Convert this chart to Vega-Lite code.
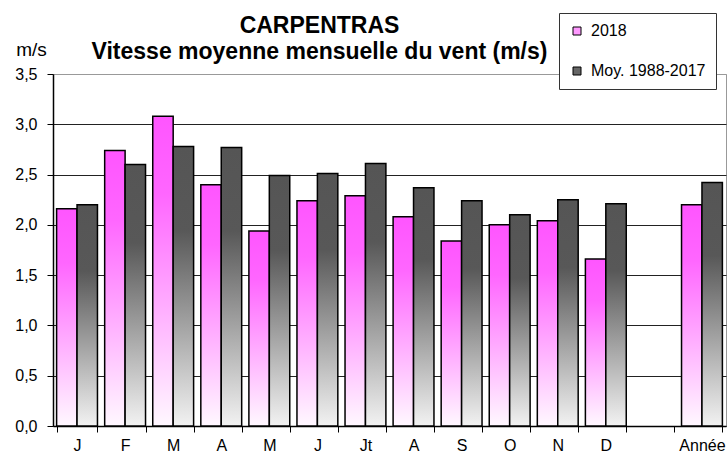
{
  "$schema": "https://vega.github.io/schema/vega-lite/v6.json",
  "autosize": "none",
  "width": 673,
  "height": 352,
  "padding": {"left": 53, "top": 74, "right": 1, "bottom": 28},
  "background": "white",
  "config": {
    "view": {"stroke": "#999999", "strokeWidth": 1},
    "font": "Liberation Sans"
  },
  "title": {
    "text": ["CARPENTRAS", "Vitesse moyenne mensuelle du vent (m/s)"],
    "font": "Liberation Sans",
    "fontSize": 23,
    "fontWeight": "bold",
    "color": "black",
    "lineHeight": 26,
    "anchor": "middle",
    "dx": -70,
    "offset": -51
  },
  "data": {
    "values": [
      {"k": "01", "serie": "2018", "v": 2.16},
      {"k": "01", "serie": "Moy. 1988-2017", "v": 2.20},
      {"k": "02", "serie": "2018", "v": 2.74},
      {"k": "02", "serie": "Moy. 1988-2017", "v": 2.60},
      {"k": "03", "serie": "2018", "v": 3.08},
      {"k": "03", "serie": "Moy. 1988-2017", "v": 2.78},
      {"k": "04", "serie": "2018", "v": 2.40},
      {"k": "04", "serie": "Moy. 1988-2017", "v": 2.77},
      {"k": "05", "serie": "2018", "v": 1.94},
      {"k": "05", "serie": "Moy. 1988-2017", "v": 2.49},
      {"k": "06", "serie": "2018", "v": 2.24},
      {"k": "06", "serie": "Moy. 1988-2017", "v": 2.51},
      {"k": "07", "serie": "2018", "v": 2.29},
      {"k": "07", "serie": "Moy. 1988-2017", "v": 2.61},
      {"k": "08", "serie": "2018", "v": 2.08},
      {"k": "08", "serie": "Moy. 1988-2017", "v": 2.37},
      {"k": "09", "serie": "2018", "v": 1.84},
      {"k": "09", "serie": "Moy. 1988-2017", "v": 2.24},
      {"k": "10", "serie": "2018", "v": 2.00},
      {"k": "10", "serie": "Moy. 1988-2017", "v": 2.10},
      {"k": "11", "serie": "2018", "v": 2.04},
      {"k": "11", "serie": "Moy. 1988-2017", "v": 2.25},
      {"k": "12", "serie": "2018", "v": 1.66},
      {"k": "12", "serie": "Moy. 1988-2017", "v": 2.21},
      {"k": "14", "serie": "2018", "v": 2.20},
      {"k": "14", "serie": "Moy. 1988-2017", "v": 2.42}
    ]
  },
  "layer": [
    {
      "mark": {"type": "bar", "stroke": "black", "strokeWidth": 1.5},
      "encoding": {
        "x": {
          "field": "k",
          "type": "nominal",
          "sort": null,
          "scale": {
            "domain": ["01","02","03","04","05","06","07","08","09","10","11","12","13","14"],
            "paddingInner": 0.15,
            "paddingOuter": 0.075
          },
          "axis": {
            "title": null,
            "labelAngle": 0,
            "labelExpr": "['J','F','M','A','M','J','Jt','A','S','O','N','D','','Année'][toNumber(datum.value)-1]",
            "labelFont": "Liberation Sans",
            "labelFontSize": 16,
            "labelColor": "black",
            "labelPadding": 5,
            "tickBand": "extent",
            "tickColor": "black",
            "tickSize": 6,
            "domainColor": "black",
            "domainWidth": 1.5,
            "grid": false
          }
        },
        "xOffset": {
          "field": "serie",
          "type": "nominal",
          "scale": {"domain": ["2018", "Moy. 1988-2017"], "paddingInner": 0, "paddingOuter": 0}
        },
        "y": {
          "field": "v",
          "type": "quantitative",
          "scale": {"domain": [0, 3.5], "nice": false},
          "axis": {
            "values": [0, 0.5, 1, 1.5, 2, 2.5, 3, 3.5],
            "labelExpr": "replace(format(datum.value, '.1f'), '.', ',')",
            "labelFont": "Liberation Sans",
            "labelFontSize": 16,
            "labelColor": "black",
            "labelPadding": 10,
            "tickColor": "black",
            "tickSize": 6,
            "domainColor": "black",
            "domainWidth": 1.5,
            "gridColor": {"condition": {"test": "datum.value == 3.5", "value": "#999999"}, "value": "#222222"},
            "gridWidth": 1,
            "title": "m/s",
            "titleAngle": 0,
            "titleX": -22,
            "titleY": -19,
            "titleAlign": "center",
            "titleBaseline": "alphabetic",
            "titleFont": "Liberation Sans",
            "titleFontSize": 19,
            "titleFontWeight": "normal",
            "titleColor": "black"
          }
        },
        "fill": {
          "condition": {
            "test": "datum.serie === '2018'",
            "value": {
              "gradient": "linear", "x1": 0, "y1": 0, "x2": 0, "y2": 1,
              "stops": [
                {"offset": 0, "color": "#ff55ff"},
                {"offset": 0.25, "color": "#ff66ff"},
                {"offset": 1, "color": "#fff8ff"}
              ]
            }
          },
          "value": {
            "gradient": "linear", "x1": 0, "y1": 0, "x2": 0, "y2": 1,
            "stops": [
              {"offset": 0, "color": "#555555"},
              {"offset": 0.3, "color": "#585858"},
              {"offset": 1, "color": "#f2f2f2"}
            ]
          }
        }
      }
    },
    {
      "mark": {"type": "square", "opacity": 1},
      "transform": [{"filter": "false"}],
      "encoding": {
        "color": {
          "field": "serie",
          "type": "nominal",
          "scale": {"domain": ["2018", "Moy. 1988-2017"], "range": ["#ff99ff", "#666666"]},
          "legend": {
            "orient": "none",
            "legendX": 506,
            "legendY": -61,
            "title": null,
            "direction": "vertical",
            "fillColor": "white",
            "strokeColor": "#333333",
            "padding": 10,
            "rowPadding": 24,
            "labelFont": "Liberation Sans",
            "labelFontSize": 16,
            "labelColor": "black",
            "labelOffset": 6,
            "symbolType": "square",
            "symbolSize": 64,
            "symbolStrokeColor": "black",
            "symbolStrokeWidth": 1,
            "symbolOpacity": 1
          }
        }
      }
    }
  ]
}
